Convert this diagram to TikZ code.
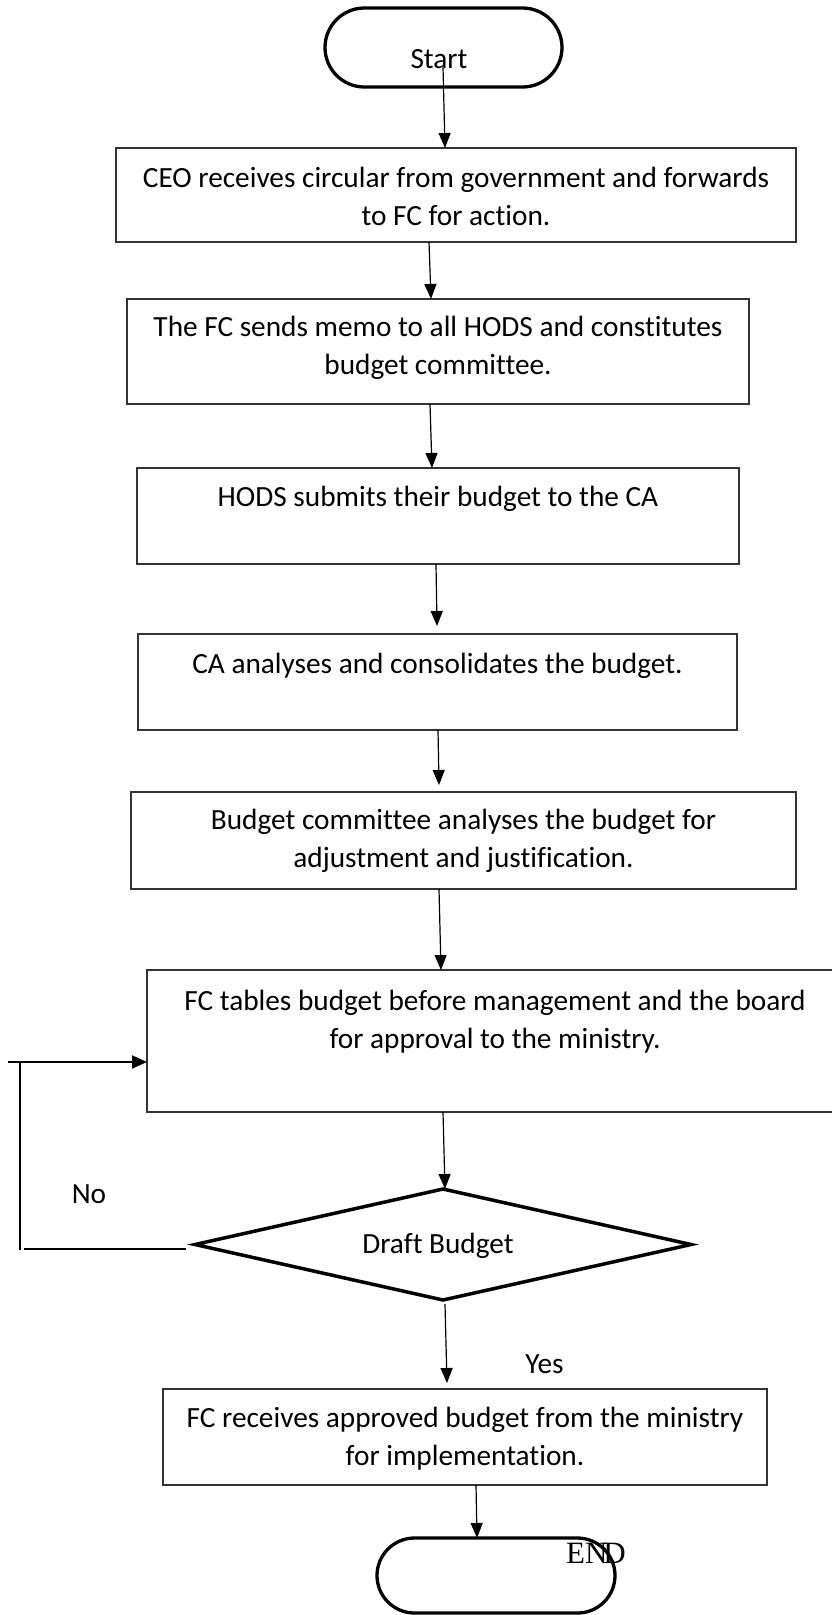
\documentclass[tikz,border=0pt]{standalone}
\usepackage{fontspec}
\setmainfont{Carlito}[Ligatures=NoCommon]
\newfontfamily\serifend{Liberation Serif}
\usetikzlibrary{shapes.misc,shapes.geometric,arrows.meta}
\begin{document}
\begin{tikzpicture}[x=1pt,y=-1pt,
  box/.style={draw=black!80,line width=1.3pt,rectangle,inner sep=0pt,outer sep=0pt},
  term/.style={draw=black,line width=3.3pt,rounded rectangle,inner sep=0pt,outer sep=0pt},
  decision/.style={draw=black,line width=3.5pt,diamond,inner sep=0pt,outer sep=0pt},
  txt/.style={anchor=base,inner sep=0pt,font=\fontsize{29.3pt}{38.5pt}\selectfont},
  flow/.style={line width=1.2pt,-{Triangle[length=15pt,width=12pt]}},
  loopline/.style={line width=2.4pt}
]
\useasboundingbox (0,0) rectangle (832,1615);

% shapes of the flow
\node[term,minimum width=237pt,minimum height=79pt] (start) at (443.5,47.5) {};
\node[box,minimum width=680pt,minimum height=94pt] (b1) at (456,195) {};
\node[box,minimum width=622pt,minimum height=105pt] (b2) at (438,351.5) {};
\node[box,minimum width=602pt,minimum height=96pt] (b3) at (438,516) {};
\node[box,minimum width=599pt,minimum height=96pt] (b4) at (437.5,682) {};
\node[box,minimum width=665pt,minimum height=97pt] (b5) at (463.5,840.5) {};
\node[box,minimum width=696pt,minimum height=142pt] (b6) at (495,1041) {};
\node[decision,minimum width=496pt,minimum height=111pt] (dec) at (443,1244.5) {};
\node[box,minimum width=604pt,minimum height=96pt] (b7) at (465,1437) {};
\node[term,minimum width=238pt,minimum height=75pt] (end) at (496,1575.5) {};

% texts
\node[txt] (tstart) at (439,68) {Start};
\node[txt] (t1a) at (456,187) {CEO receives circular from government and forwards};
\node[txt] (t1b) at (456,225.5) {to FC for action.};
\node[txt] (t2a) at (438,336) {The FC sends memo to all HODS and constitutes};
\node[txt] (t2b) at (438,374.5) {budget committee.};
\node[txt] (t3) at (438,506) {HODS submits their budget to the CA};
\node[txt] (t4) at (437.5,673) {CA analyses and consolidates the budget.};
\node[txt] (t5a) at (463.5,829) {Budget committee analyses the budget for};
\node[txt] (t5b) at (463.5,867.5) {adjustment and justification.};
\node[txt] (t6a) at (495,1010) {FC tables budget before management and the board};
\node[txt] (t6b) at (495,1048.5) {for approval to the ministry.};
\node[txt] (tdec) at (438,1253) {Draft Budget};
\node[txt] (t7a) at (465,1427) {FC receives approved budget from the ministry};
\node[txt] (t7b) at (465,1465.5) {for implementation.};
\node[txt,font=\serifend\fontsize{31pt}{36pt}\selectfont] (tend) at (596,1563) {EN\kern-4pt D};
\node[txt] (tno) at (89,1203) {No};
\node[txt] (tyes) at (544.5,1373) {Yes};

% connectors
\draw[flow] ([xshift=-0.5pt,yshift=-19.5pt]start.center) -- ([xshift=-11pt]b1.north);
\draw[flow] ([xshift=-27pt]b1.south) -- ([xshift=-7pt]b2.north);
\draw[flow] ([xshift=-8pt]b2.south) -- ([xshift=-6pt]b3.north);
\draw[flow] ([xshift=-2pt]b3.south) -- ([xshift=-0.5pt,yshift=8pt]b4.north);
\draw[flow] ([xshift=0.5pt]b4.south) -- ([xshift=-24.5pt,yshift=7pt]b5.north);
\draw[flow] ([xshift=-24.5pt]b5.south) -- ([xshift=-54pt]b6.north);
\draw[flow] ([xshift=-52pt]b6.south) -- ([xshift=2pt]dec.north);
\draw[flow] ([xshift=2pt,yshift=-4pt]dec.south) -- ([xshift=-18pt,yshift=6pt]b7.north);
\draw[flow] ([xshift=11pt]b7.south) -- ([xshift=-19pt]end.north);

% the "No" return path
\coordinate (nobottom) at (24,1249);
\coordinate (nocorner) at (20,1249.5);
\coordinate (notop) at (20,1062);
\coordinate (nostart) at (8,1062);
\draw[loopline] ([xshift=-9pt,yshift=-4.5pt]dec.west) -- (nobottom);
\draw[line width=2pt] (nocorner) -- (notop);
\draw[line width=2pt,-{Triangle[length=15pt,width=13pt]}] (nostart) -- (b6.west |- nostart);
\end{tikzpicture}
\end{document}
